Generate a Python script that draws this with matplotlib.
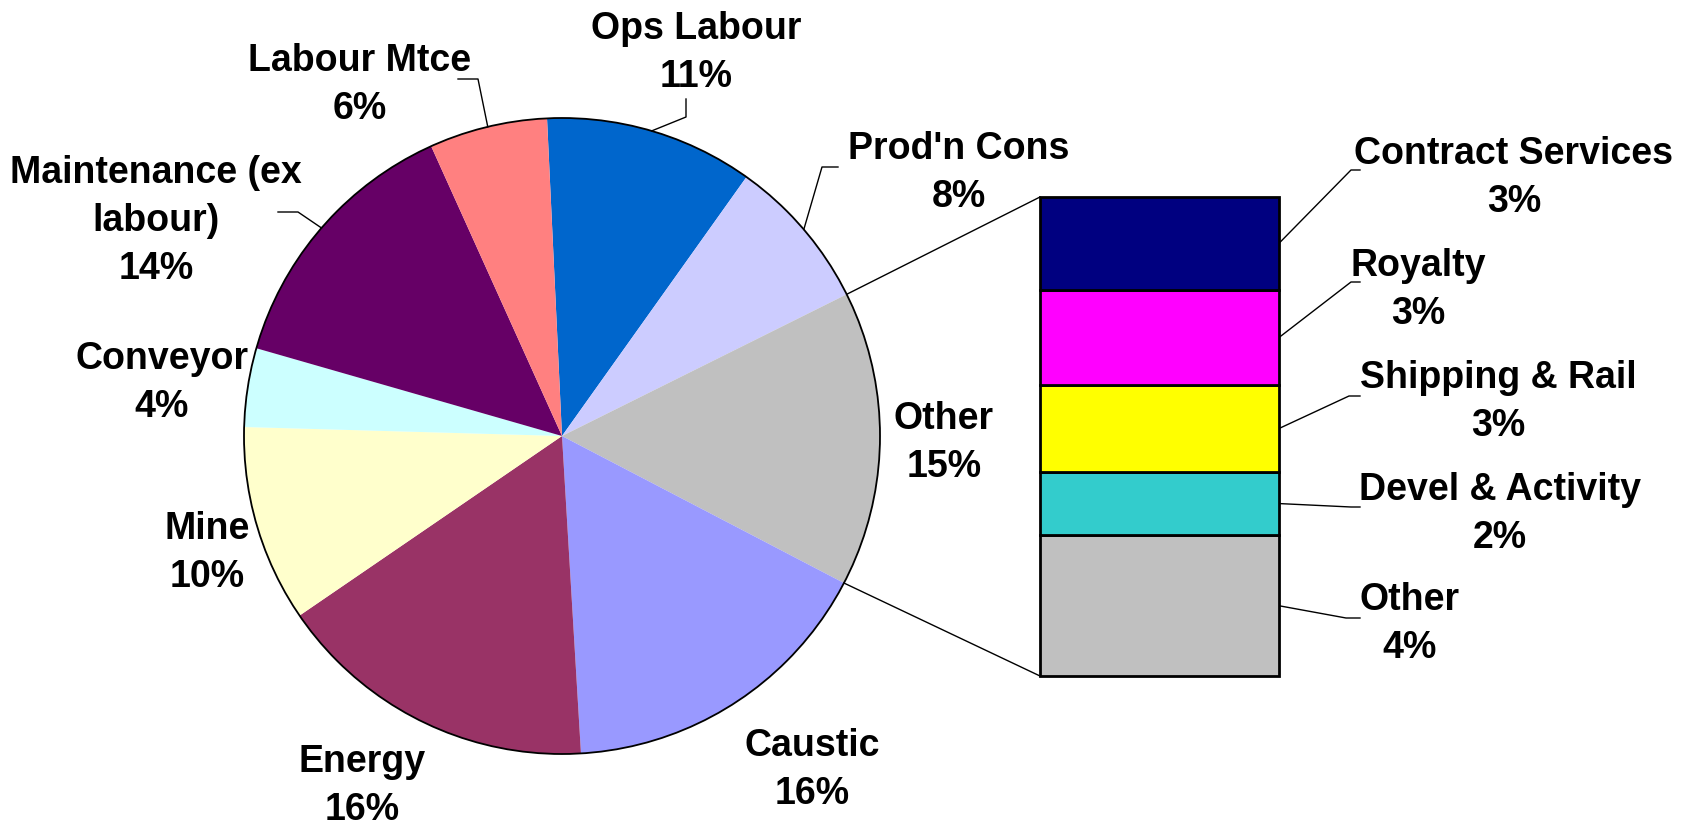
import numpy as np
import matplotlib.pyplot as plt
from matplotlib.patches import Circle

plt.rcParams['font.family'] = ['Liberation Sans', 'DejaVu Sans']

# Pie slices, clockwise from the top
categories = ["Ops Labour", "Prod'n Cons", "Other", "Caustic", "Energy",
              "Mine", "Conveyor", "Maintenance (ex\nlabour)", "Labour Mtce"]
values = [10.6, 7.8, 15.0, 16.4, 16.4, 10.0, 4.0, 13.8, 6.0]
colors = ["#0066CC", "#CCCCFF", "#C0C0C0", "#9999FF", "#993366",
          "#FFFFCC", "#CCFFFF", "#660066", "#FF8080"]

# Breakdown of "Other", top to bottom of the bar
other_categories = ["Contract Services", "Royalty", "Shipping & Rail",
                    "Devel & Activity", "Other"]
other_values = [2.9, 3.0, 2.7, 2.0, 4.4]
other_colors = ["#000080", "#FF00FF", "#FFFF00", "#33CCCC", "#C0C0C0"]

W, H = 1695, 828
FS = 27


def py(y):
    # pixel row (from top) -> data y
    return H - y


fig = plt.figure(figsize=(W / 100, H / 100), dpi=100)
ax = fig.add_axes([0, 0, 1, 1])

cx, cy, R = 562, py(437), 318
wedges, _ = ax.pie(values, colors=colors, startangle=92.7, counterclock=False,
                   center=(cx, cy), radius=R, wedgeprops={"linewidth": 0})
ax.add_patch(Circle((cx, cy), R, fill=False, ec="black", lw=1.3))
ax.set_xlim(0, W)
ax.set_ylim(0, H)
ax.set_aspect("equal")
ax.set_axis_off()

# Pie labels: block centre and leader line points (pixels from top)
pie_label_pos = [(696, 53), (959, 173), (944, 443), (812, 770), (362, 786),
                 (207, 553), (162, 383), (156, 221), (360, 85)]
pie_leaders = [[(686, 118), (686, 100)], [(822, 168), (838, 168)], None, None,
               None, None, None, [(298, 213), (278, 213)],
               [(478, 80), (458, 80)]]

for w, name, v, pos, lead in zip(wedges, categories, values,
                                 pie_label_pos, pie_leaders):
    ax.text(pos[0], py(pos[1]), f"{name}\n{round(v)}%", ha="center",
            va="center", multialignment="center", fontsize=FS,
            fontweight="bold", linespacing=1.42)
    if lead:
        mid = np.deg2rad((w.theta1 + w.theta2) / 2)
        xs = [cx + R * np.cos(mid)] + [p[0] for p in lead]
        ys = [cy + R * np.sin(mid)] + [py(p[1]) for p in lead]
        ax.plot(xs, ys, color="black", lw=1)

# Stacked bar for the "Other" breakdown
bx, btop, bw, bbot = 1040, 198, 239, 677
axb = fig.add_axes([bx / W, (H - bbot) / H, bw / W, (bbot - btop) / H])
bottom = 0
mids = []
for v, c in zip(other_values[::-1], other_colors[::-1]):
    axb.bar(0, v, bottom=bottom, width=1, color=c, edgecolor="black",
            lw=2, clip_on=False)
    mids.append(bottom + v / 2)
    bottom += v
mids = mids[::-1]
axb.set_xlim(-0.5, 0.5)
axb.set_ylim(0, sum(other_values))
axb.set_axis_off()


def bar_to_main(x, y):
    return ax.transData.inverted().transform(axb.transData.transform((x, y)))


# Connector lines from the "Other" slice to the bar corners
ow = wedges[categories.index("Other")]
for ang, yb in [(ow.theta2, sum(other_values)), (ow.theta1, 0)]:
    a = np.deg2rad(ang)
    p = bar_to_main(-0.5, yb)
    ax.plot([cx + R * np.cos(a), p[0]], [cy + R * np.sin(a), p[1]],
            color="black", lw=1)

bar_label_pos = [(1514, 178), (1418, 290), (1498, 402), (1500, 514), (1410, 624)]
bar_leaders = [[(1351, 171), (1360, 171)], [(1351, 283), (1360, 283)],
               [(1349, 397), (1360, 397)], [(1351, 508), (1360, 508)],
               [(1346, 619), (1360, 619)]]

for name, v, m, pos, lead in zip(other_categories, other_values, mids,
                                 bar_label_pos, bar_leaders):
    ax.text(pos[0], py(pos[1]), f"{name}\n{round(v)}%", ha="center",
            va="center", multialignment="center", fontsize=FS,
            fontweight="bold", linespacing=1.42)
    s = bar_to_main(0.5, m)
    xs = [s[0]] + [p[0] for p in lead]
    ys = [s[1]] + [py(p[1]) for p in lead]
    ax.plot(xs, ys, color="black", lw=1)

fig.savefig("out.png", dpi=100)
